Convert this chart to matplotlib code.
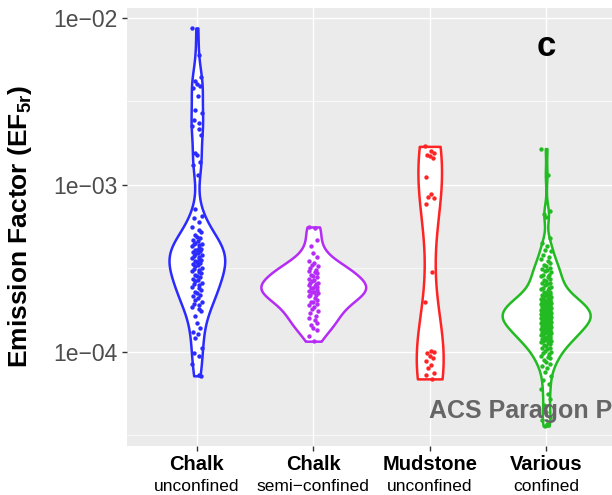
import numpy as np
import matplotlib
matplotlib.use("Agg")
import matplotlib.pyplot as plt
from matplotlib.ticker import FixedLocator, NullFormatter

plt.rcParams["font.family"] = ["Liberation Sans", "DejaVu Sans"]

# ---- data (EF5r values) ----
categories = ["Chalk", "Chalk", "Mudstone", "Various"]
subtitles = ["unconfined", "semi\u2212confined", "unconfined", "confined"]
colors = ["#2B2BFF", "#B42CF5", "#FF2424", "#22BB22"]

chalk_unconf = [
    8.7e-3, 6.0e-3, 4.4e-3, 4.2e-3, 4.0e-3, 3.9e-3, 3.8e-3, 3.4e-3, 2.8e-3, 2.7e-3,
    2.45e-3, 2.35e-3, 2.25e-3, 2.15e-3, 2.0e-3, 1.55e-3, 1.5e-3, 1.38e-3, 1.32e-3, 1.15e-3,
    7.2e-4, 6.5e-4, 6.3e-4, 6.0e-4, 5.6e-4, 5.4e-4, 5.2e-4, 5.0e-4, 4.9e-4, 4.8e-4,
    4.7e-4, 4.6e-4, 4.5e-4, 4.45e-4, 4.4e-4, 4.35e-4, 4.3e-4, 4.2e-4, 4.15e-4, 4.1e-4,
    4.05e-4, 4.0e-4, 3.95e-4, 3.9e-4, 3.85e-4, 3.8e-4, 3.75e-4, 3.7e-4, 3.65e-4, 3.6e-4,
    3.55e-4, 3.5e-4, 3.45e-4, 3.4e-4, 3.35e-4, 3.3e-4, 3.25e-4, 3.2e-4, 3.15e-4, 3.1e-4,
    3.05e-4, 3.0e-4, 2.95e-4, 2.9e-4, 2.85e-4, 2.8e-4, 2.75e-4, 2.7e-4, 2.65e-4, 2.6e-4,
    2.55e-4, 2.5e-4, 2.45e-4, 2.4e-4, 2.35e-4, 2.3e-4, 2.25e-4, 2.2e-4, 2.15e-4, 2.1e-4,
    2.05e-4, 2.0e-4, 1.95e-4, 1.9e-4, 1.85e-4, 1.8e-4, 1.75e-4, 1.65e-4, 1.5e-4, 1.4e-4,
    1.32e-4, 1.28e-4, 1.22e-4, 1.05e-4, 9.8e-5, 9.5e-5, 8.5e-5, 7.3e-5, 7.2e-5,
]
chalk_semi = [
    5.6e-4, 5.5e-4, 4.7e-4, 4.3e-4, 3.9e-4, 3.7e-4, 3.5e-4, 3.4e-4, 3.3e-4, 3.25e-4,
    3.2e-4, 3.1e-4, 3.05e-4, 3.0e-4, 2.95e-4, 2.9e-4, 2.85e-4, 2.8e-4, 2.75e-4, 2.7e-4,
    2.65e-4, 2.6e-4, 2.58e-4, 2.55e-4, 2.5e-4, 2.48e-4, 2.45e-4, 2.42e-4, 2.4e-4, 2.35e-4,
    2.32e-4, 2.3e-4, 2.28e-4, 2.25e-4, 2.2e-4, 2.18e-4, 2.15e-4, 2.1e-4, 2.05e-4, 2.0e-4,
    1.98e-4, 1.95e-4, 1.9e-4, 1.85e-4, 1.8e-4, 1.75e-4, 1.7e-4, 1.65e-4, 1.6e-4, 1.55e-4,
    1.5e-4, 1.45e-4, 1.4e-4, 1.35e-4, 1.25e-4, 1.16e-4,
]
mudstone = [
    1.7e-3, 1.6e-3, 1.55e-3, 1.5e-3, 1.48e-3, 1.45e-3, 1.11e-3, 8.8e-4, 8.5e-4, 8.3e-4,
    7.7e-4, 3.0e-4, 2.0e-4, 1.02e-4, 1.0e-4, 9.8e-5, 9.5e-5, 9.2e-5, 8.8e-5, 8.4e-5,
    8.0e-5, 7.5e-5, 7.3e-5, 6.9e-5,
]
various = [
    1.65e-3, 1.15e-3, 7.0e-4, 6.7e-4, 6.4e-4, 4.8e-4, 4.5e-4, 4.3e-4, 4.1e-4, 4.0e-4,
    3.8e-4, 3.7e-4, 3.6e-4, 3.5e-4, 3.4e-4, 3.3e-4, 3.25e-4, 3.2e-4, 3.15e-4, 3.1e-4,
    3.05e-4, 3.0e-4, 2.9e-4, 2.9e-4, 2.85e-4, 2.8e-4, 2.75e-4, 2.7e-4, 2.65e-4, 2.6e-4,
    2.6e-4, 2.55e-4, 2.5e-4, 2.45e-4, 2.42e-4, 2.4e-4, 2.38e-4, 2.35e-4, 2.3e-4, 2.28e-4,
    2.25e-4, 2.22e-4, 2.2e-4, 2.18e-4, 2.15e-4, 2.12e-4, 2.1e-4, 2.09e-4, 2.08e-4, 2.07e-4,
    2.05e-4, 2.04e-4, 2.02e-4, 2.01e-4, 2.0e-4, 1.99e-4, 1.98e-4, 1.96e-4, 1.95e-4, 1.94e-4,
    1.93e-4, 1.92e-4, 1.9e-4, 1.89e-4, 1.88e-4, 1.87e-4, 1.86e-4, 1.85e-4, 1.84e-4, 1.83e-4,
    1.81e-4, 1.8e-4, 1.79e-4, 1.78e-4, 1.77e-4, 1.76e-4, 1.75e-4, 1.74e-4, 1.73e-4, 1.72e-4,
    1.72e-4, 1.71e-4, 1.7e-4, 1.69e-4, 1.68e-4, 1.68e-4, 1.67e-4, 1.66e-4, 1.65e-4, 1.64e-4,
    1.63e-4, 1.62e-4, 1.62e-4, 1.61e-4, 1.6e-4, 1.6e-4, 1.59e-4, 1.58e-4, 1.58e-4, 1.57e-4,
    1.56e-4, 1.55e-4, 1.54e-4, 1.53e-4, 1.52e-4, 1.52e-4, 1.51e-4, 1.5e-4, 1.49e-4, 1.48e-4,
    1.47e-4, 1.46e-4, 1.46e-4, 1.45e-4, 1.44e-4, 1.43e-4, 1.42e-4, 1.41e-4, 1.4e-4, 1.39e-4,
    1.38e-4, 1.37e-4, 1.36e-4, 1.35e-4, 1.34e-4, 1.33e-4, 1.32e-4, 1.31e-4, 1.3e-4, 1.29e-4,
    1.28e-4, 1.27e-4, 1.26e-4, 1.25e-4, 1.24e-4, 1.23e-4, 1.22e-4, 1.21e-4, 1.2e-4, 1.19e-4,
    1.18e-4, 1.17e-4, 1.16e-4, 1.15e-4, 1.14e-4, 1.13e-4, 1.12e-4, 1.1e-4, 1.08e-4, 1.06e-4,
    1.05e-4, 1.04e-4, 1.02e-4, 1.0e-4, 9.8e-5, 9.7e-5, 9.5e-5, 9.3e-5, 9.2e-5, 9.0e-5,
    8.7e-5, 8.5e-5, 8.2e-5, 8.0e-5, 7.6e-5, 7.2e-5, 6.8e-5, 6.4e-5, 6.0e-5, 5.6e-5,
    5.2e-5, 4.8e-5, 4.4e-5, 4.1e-5, 3.9e-5, 3.7e-5, 3.6e-5,
]
groups = [chalk_unconf, chalk_semi, mudstone, various]

# small fixed horizontal jitter pattern for the points
jitter = [-0.04, 0.015, 0.035, -0.02, 0.0, 0.03, -0.035, 0.008, -0.012, 0.04, -0.028, 0.022]


def nrd0(x):
    sd = np.std(x, ddof=1)
    iqr = np.subtract(*np.percentile(x, [75, 25]))
    lo = min(sd, iqr / 1.34) if iqr > 0 else sd
    return 0.9 * lo * len(x) ** -0.2


def kde(x, grid):
    bw = nrd0(x)
    z = (grid[:, None] - x[None, :]) / bw
    return np.exp(-0.5 * z ** 2).sum(axis=1) / (len(x) * bw * np.sqrt(2 * np.pi))


# densities on log10 scale, trimmed to data range (ggplot geom_violin)
dens = []
for g in groups:
    lx = np.log10(np.array(g))
    grid = np.linspace(lx.min(), lx.max(), 512)
    dens.append((grid, kde(lx, grid)))
dmax = max(d.max() for _, d in dens)

fig = plt.figure(figsize=(6.12, 4.95), dpi=100)
ax = fig.add_axes([127 / 612, 1 - 446 / 495, 489 / 612, 438 / 495])
ax.set_facecolor("#EBEBEB")

for i, (g, (grid, d), c) in enumerate(zip(groups, dens, colors)):
    x0 = i + 1
    hw = 0.45 * d / dmax
    ax.fill_betweenx(10 ** grid, x0 - hw, x0 + hw, facecolor="white",
                     edgecolor=c, linewidth=1.8, zorder=2)
    jx = np.resize(jitter, len(g))
    ax.scatter(x0 + jx, g, s=10, color=c, linewidths=0, zorder=3)

ax.set_yscale("log")
all_log = np.log10(np.concatenate([np.array(g) for g in groups]))
lo, hi = all_log.min(), all_log.max()
pad = 0.05 * (hi - lo)
ax.set_ylim(10 ** (lo - pad), 10 ** (hi + pad))
ax.set_xlim(0.4, 4.6)

ax.yaxis.set_major_locator(FixedLocator([1e-4, 1e-3, 1e-2]))
ax.set_yticklabels(["1e\u221204", "1e\u221203", "1e\u221202"])
ax.yaxis.set_minor_locator(FixedLocator([10 ** -4.5, 10 ** -3.5, 10 ** -2.5]))
ax.yaxis.set_minor_formatter(NullFormatter())
ax.set_xticks([1, 2, 3, 4])
ax.set_xticklabels([])

ax.grid(True, which="major", color="white", linewidth=1.0)
ax.grid(True, which="minor", axis="y", color="white", linewidth=0.5)
ax.set_axisbelow(True)
for s in ax.spines.values():
    s.set_visible(False)
ax.tick_params(axis="both", which="major", length=3.5, width=1.0, color="#333333",
               labelsize=16.5, labelcolor="#4D4D4D", pad=3)
ax.tick_params(axis="y", which="minor", length=0)

for i, (cat, sub) in enumerate(zip(categories, subtitles)):
    ax.annotate(cat, xy=(i + 1, 0), xycoords=("data", "axes fraction"),
                xytext=(0, -13), textcoords="offset points", ha="center", va="center",
                fontsize=14.5, fontweight="bold", color="black", annotation_clip=False)
    ax.annotate(sub, xy=(i + 1, 0), xycoords=("data", "axes fraction"),
                xytext=(0, -29), textcoords="offset points", ha="center", va="center",
                fontsize=12.5, color="black", annotation_clip=False)

ax.set_ylabel("Emission Factor (EF$_{\\mathregular{5r}}$)", fontsize=19, fontweight="bold")
ax.yaxis.set_label_coords(-0.19, 0.5)

ax.text(4, 10 ** -2.174, "c", ha="center", va="center", fontsize=25, fontweight="bold")

# watermark, clipped by the right edge as in the original page
fig.text(429 / 612, 1 - 418 / 495, "ACS Paragon Plus Environment", color="#666666",
         fontsize=18, fontweight="bold", ha="left", va="baseline", zorder=10)

fig.savefig("out.png", dpi=100)
